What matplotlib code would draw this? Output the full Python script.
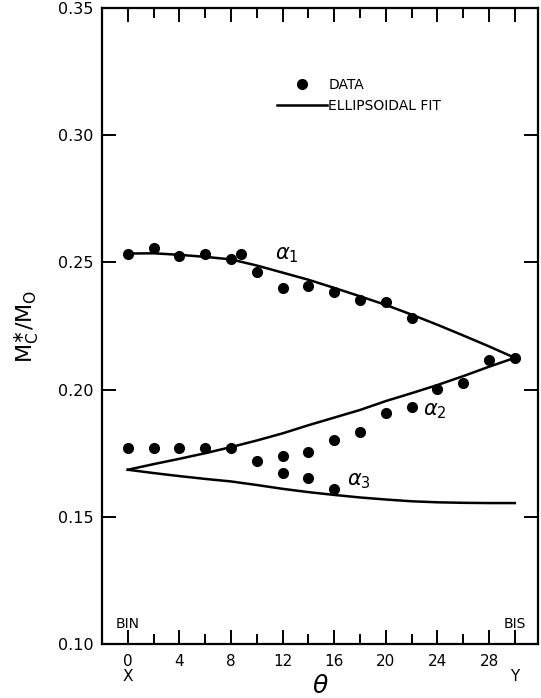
import matplotlib.pyplot as plt
from matplotlib.lines import Line2D

# data
theta_a1 = [0, 2, 4, 6, 8, 8.8, 10, 12, 14, 16, 18, 20, 22]
m_a1 = [0.2535, 0.2555, 0.2525, 0.2534, 0.2512, 0.2534, 0.2462, 0.2398, 0.2407, 0.2382, 0.2352, 0.2343, 0.2283]

theta_a2 = [0, 2, 4, 6, 8, 10, 12, 14, 16, 18, 20, 22, 24, 26, 28, 30]
m_a2 = [0.1769, 0.1769, 0.1769, 0.1769, 0.1770, 0.1720, 0.1740, 0.1755, 0.1803, 0.1832,
        0.1909, 0.1933, 0.2003, 0.2028, 0.2115, 0.2125]

theta_a3 = [12, 14, 16]
m_a3 = [0.1672, 0.1652, 0.1609]

# ellipsoidal fit curves
theta_fit = [0, 2, 4, 6, 8, 10, 12, 14, 16, 18, 20, 22, 24, 26, 28, 30]
fit_a1 = [0.2535, 0.2536, 0.2530, 0.2522, 0.2512, 0.2488, 0.2460, 0.2432, 0.2400, 0.2367,
          0.2333, 0.2295, 0.2255, 0.2213, 0.2170, 0.2125]
fit_a2 = [0.1685, 0.1707, 0.1728, 0.1750, 0.1774, 0.1800, 0.1828, 0.1860, 0.1890, 0.1920,
          0.1955, 0.1986, 0.2018, 0.2053, 0.2090, 0.2125]
fit_a3 = [0.1685, 0.1672, 0.1660, 0.1649, 0.1639, 0.1625, 0.1610, 0.1597, 0.1586, 0.1576,
          0.1568, 0.1561, 0.1557, 0.1555, 0.1554, 0.1554]

x_major = [0, 4, 8, 12, 16, 20, 24, 28, 30]
x_labels = ['0\nX', '4', '8', '12', '16', '20', '24', '28', '\nY']
y_ticks = [0.10, 0.15, 0.20, 0.25, 0.30, 0.35]

fig = plt.figure(figsize=(5.41, 6.98), dpi=100)
ax = fig.add_axes([0.1885, 0.0774, 0.806, 0.911])

lw = 1.8
ax.plot(theta_fit, fit_a1, color='black', lw=lw)
ax.plot(theta_fit, fit_a2, color='black', lw=lw)
ax.plot(theta_fit, fit_a3, color='black', lw=lw)

for t, m in [(theta_a1, m_a1), (theta_a2, m_a2), (theta_a3, m_a3)]:
    ax.plot(t, m, 'o', color='black', ms=7, zorder=3)

ax.text(12.3, 0.2530, r'$\alpha_1$', fontsize=15, ha='center', va='center')
ax.text(23.8, 0.1915, r'$\alpha_2$', fontsize=15, ha='center', va='center')
ax.text(17.9, 0.1639, r'$\alpha_3$', fontsize=15, ha='center', va='center')

ax.text(0, 0.108, 'BIN', fontsize=10, ha='center', va='center')
ax.text(30, 0.108, 'BIS', fontsize=10, ha='center', va='center')

ax.set_xlim(-2, 31.8)
ax.set_ylim(0.10, 0.35)

ax.set_xticks(x_major)
ax.set_xticklabels(x_labels, fontsize=11, va='top', linespacing=1.0)
ax.set_xticks(range(2, 30, 4), minor=True)
ax.set_yticks(y_ticks)
ax.set_yticklabels(['%.2f' % v for v in y_ticks], fontsize=11.5)

ax.tick_params(which='major', direction='in', length=10, width=1.4,
               top=True, right=True, pad=7)
ax.tick_params(axis='y', pad=6)
ax.tick_params(which='minor', direction='in', length=7, width=1.4,
               top=True, right=True)
for s in ax.spines.values():
    s.set_linewidth(1.6)

ax.set_xlabel(r'$\theta$', fontsize=18, labelpad=-7)
ax.set_ylabel(r'$\mathregular{M_C^{\ast}/M_O}$', fontsize=16, labelpad=12)

handles = [Line2D([], [], marker='o', ls='none', color='black', ms=7),
           Line2D([], [], color='black', lw=lw)]
ax.legend(handles, ['DATA', 'ELLIPSOIDAL FIT'], frameon=False, fontsize=10,
          loc='upper left', bbox_to_anchor=(0.372, 0.91), handlelength=3.6,
          handletextpad=0.12, labelspacing=0.5)

fig.savefig('out.png', dpi=100)
